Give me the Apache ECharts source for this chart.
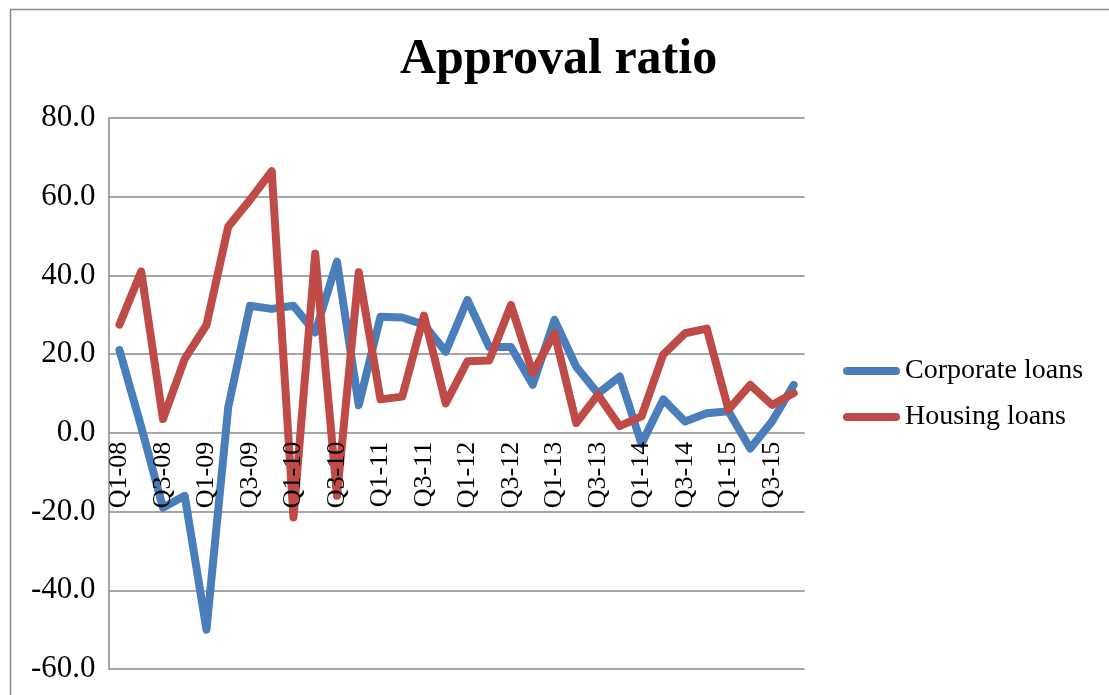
<!DOCTYPE html>
<html>
<head>
<meta charset="utf-8">
<title>Approval ratio</title>
<script src="https://cdn.jsdelivr.net/npm/echarts@6/dist/echarts.min.js"></script>
<style>
  html, body { margin: 0; padding: 0; background: #ffffff; }
  #chart { width: 1109px; height: 695px; }
</style>
</head>
<body>
<div id="chart"></div>
<script>
// Quarterly categories, Q1-08 .. Q4-15
const quarters = [
  'Q1-08','Q2-08','Q3-08','Q4-08',
  'Q1-09','Q2-09','Q3-09','Q4-09',
  'Q1-10','Q2-10','Q3-10','Q4-10',
  'Q1-11','Q2-11','Q3-11','Q4-11',
  'Q1-12','Q2-12','Q3-12','Q4-12',
  'Q1-13','Q2-13','Q3-13','Q4-13',
  'Q1-14','Q2-14','Q3-14','Q4-14',
  'Q1-15','Q2-15','Q3-15','Q4-15'
];

const corporateLoans = [
  21.0, 1.5, -19.0, -16.0,
  -50.0, 6.5, 32.3, 31.5,
  32.3, 25.5, 43.5, 7.0,
  29.5, 29.3, 27.5, 20.6,
  33.8, 21.8, 21.8, 12.2,
  28.7, 16.8, 10.0, 14.3,
  -2.8, 8.5, 2.9, 5.0,
  5.5, -4.0, 2.9, 12.2
];

const housingLoans = [
  27.5, 41.0, 3.5, 18.8,
  27.4, 52.4, 59.2, 66.5,
  -21.5, 45.5, -16.0, 40.8,
  8.5, 9.2, 29.8, 7.5,
  18.2, 18.4, 32.5, 15.2,
  25.3, 2.5, 9.7, 1.7,
  4.2, 19.9, 25.3, 26.5,
  5.9, 12.2, 7.1, 10.1
];

const yTicks = { min: -60, max: 80, step: 20 };

const serif = '"Liberation Serif", "Times New Roman", serif';
const gridColor = '#898989';
const blue = '#4A7EBB';
const red = '#BE4B48';

// plot rectangle
const plot = { left: 108.6, right: 304.4, top: 118, bottom: 26 };
const plotHeight = 695 - plot.top - plot.bottom;
// the category labels hang from the zero line of the value axis
const zeroOffset = -plotHeight * (0 - yTicks.min) / (yTicks.max - yTicks.min);

const chart = echarts.init(document.getElementById('chart'), null, { renderer: 'canvas' });

const capsule = 'path://M4,0 L53,0 A4,4 0 0 1 53,8 L4,8 A4,4 0 0 1 4,0 Z';

chart.setOption({
  animation: false,
  backgroundColor: '#ffffff',
  graphic: [{
    type: 'rect',
    silent: true,
    shape: { x: 10.5, y: 9.5, width: 1200, height: 800 },
    style: { fill: 'none', stroke: '#8c8c8c', lineWidth: 1.5 }
  }],
  title: {
    text: 'Approval ratio',
    left: 400,
    top: 35,
    padding: 0,
    textStyle: {
      fontFamily: serif,
      fontWeight: 'bold',
      fontSize: 50,
      color: '#000000'
    }
  },
  grid: {
    left: plot.left,
    right: plot.right,
    top: plot.top,
    bottom: plot.bottom,
    containLabel: false,
    outerBoundsMode: 'none'
  },
  legend: {
    orient: 'vertical',
    left: 843,
    top: 356,
    padding: 0,
    itemWidth: 57,
    itemHeight: 8,
    itemGap: 16,
    itemTextGap: 1,
    icon: capsule,
    textStyle: {
      fontFamily: serif,
      fontSize: 28,
      lineHeight: 30,
      color: '#000000'
    },
    data: ['Corporate loans', 'Housing loans']
  },
  xAxis: {
    type: 'category',
    data: quarters,
    boundaryGap: true,
    position: 'bottom',
    offset: zeroOffset,
    z: 5,
    axisLine: { show: false, onZero: false },
    axisTick: { show: false },
    axisLabel: {
      interval: 1,
      rotate: 90,
      margin: 9,
      fontFamily: serif,
      fontSize: 26,
      color: '#000000'
    },
    splitLine: { show: false }
  },
  yAxis: {
    type: 'value',
    min: yTicks.min,
    max: yTicks.max,
    interval: yTicks.step,
    axisLine: { show: true, lineStyle: { color: gridColor, width: 1.5 } },
    axisTick: { show: false },
    axisLabel: {
      margin: 13,
      fontFamily: serif,
      fontSize: 31,
      color: '#000000',
      formatter: v => v.toFixed(1)
    },
    splitLine: { show: true, lineStyle: { color: gridColor, width: 1.5 } }
  },
  series: [
    {
      name: 'Corporate loans',
      type: 'line',
      data: corporateLoans,
      symbol: 'none',
      color: blue,
      lineStyle: { color: blue, width: 8, cap: 'round', join: 'round' },
      z: 2
    },
    {
      name: 'Housing loans',
      type: 'line',
      data: housingLoans,
      symbol: 'none',
      color: red,
      lineStyle: { color: red, width: 8, cap: 'round', join: 'round' },
      z: 3
    }
  ]
});
</script>
</body>
</html>
